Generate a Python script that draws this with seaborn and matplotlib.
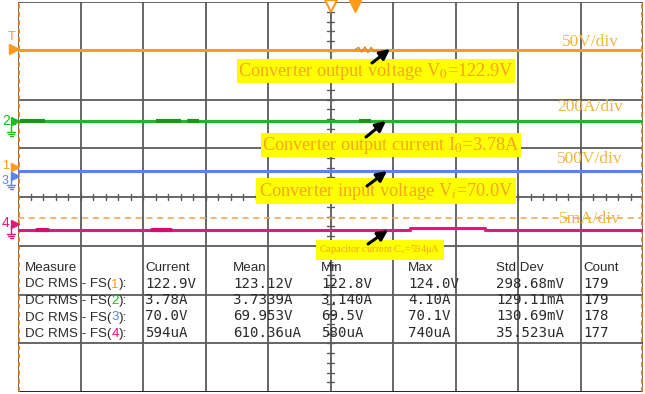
import numpy as np
import pandas as pd
import matplotlib
matplotlib.use("Agg")
import matplotlib.pyplot as plt
import seaborn as sns

# ---------------- data (screen divisions: x 0..10, y 0..8) ----------------
trace_time = [0.0, 10.0]
ch1_level = [7.02, 7.02]          # output voltage
ch2_level = [5.56, 5.56]          # output current
ch3_level = [4.53, 4.53]          # input voltage
ch4_time = [0.0, 6.27, 6.27, 7.47, 7.47, 10.0]
ch4_level = [3.32, 3.32, 3.365, 3.365, 3.32, 3.32]   # capacitor current
ch1_noise_time = [5.39, 5.45, 5.5, 5.55, 5.6, 5.65, 5.7, 5.75]
ch1_noise_level = [7.02, 7.07, 6.97, 7.08, 6.96, 7.07, 6.98, 7.02]
ch2_bursts = [(0.03, 0.5), (2.2, 2.9), (5.45, 5.65)]
ch4_bursts = [(0.3, 0.48), (2.15, 2.45)]
cursor_level = 3.575

scale_labels = ["50V/div", "200A/div", "500V/div", "5mA/div"]
callout_texts = [
    "Converter output voltage V$_0$=122.9V",
    "Converter output current I$_0$=3.78A",
    "Converter input voltage V$_i$=70.0V",
    "Capacitor current C$_x$=594\u03bcA",
]
measure_headers = ["Measure", "Current", "Mean", "Min", "Max", "Std Dev", "Count"]
channel_ids = ["1", "2", "3", "4"]
current_vals = ["122.9V", "3.78A", "70.0V", "594uA"]
mean_vals = ["123.12V", "3.7339A", "69.953V", "610.36uA"]
min_vals = ["122.8V", "3.140A", "69.5V", "580uA"]
max_vals = ["124.0V", "4.10A", "70.1V", "740uA"]
std_vals = ["298.68mV", "129.11mA", "130.69mV", "35.523uA"]
count_vals = ["179", "179", "178", "177"]

ORANGE = "#FF9A1A"
GREEN = "#1FB81F"
BLUE = "#5A82F0"
PINK = "#E8157D"
chan_colors = [ORANGE, GREEN, BLUE, PINK]
TXT_OR = "#F6A623"
LBL_OR = "#F3B43E"
GRID = "#5a5a5a"

# ---------------- figure ----------------
sns.set_theme(style="white")
plt.rcParams["font.family"] = ["Liberation Sans", "DejaVu Sans"]
plt.rcParams["mathtext.fontset"] = "stix"

W, H = 645, 394
fig = plt.figure(figsize=(W / 100, H / 100), dpi=100)
L, R, T, B = 18, 643, 2, 392
ax = fig.add_axes([L / W, (H - B) / H, (R - L) / W, (B - T) / H])
ax.set_xlim(0, 10)
ax.set_ylim(0, 8)
ax.axis("off")


def X(px):
    return (px - L) / 62.5


def Y(py):
    return (B - py) / 48.75


# grid
for i in range(11):
    ax.axvline(i, color=GRID, lw=1.3, zorder=1)
for j in range(9):
    ax.axhline(j, color=GRID, lw=1.3, zorder=1)
ax.axhline(0, color="#222222", lw=2, zorder=1)
# center minor ticks
for k in np.arange(0, 10.01, 0.2):
    ax.plot([k, k], [4 - 0.07, 4 + 0.07], color=GRID, lw=1, zorder=1)
for k in np.arange(0, 8.01, 0.2):
    ax.plot([5 - 0.05, 5 + 0.05], [k, k], color=GRID, lw=1, zorder=1)

# cursors
ax.axvline(0.02, color="#E07A10", lw=1.2, ls=(0, (3, 2)), zorder=2)
ax.axvline(9.98, color="#E07A10", lw=1.2, ls=(0, (3, 2)), zorder=2)
ax.axhline(cursor_level, color="#F5A050", lw=1.1, ls=(0, (4, 3)), zorder=2)

# traces
df1 = pd.DataFrame({"t": trace_time, "v": ch1_level})
df2 = pd.DataFrame({"t": trace_time, "v": ch2_level})
df3 = pd.DataFrame({"t": trace_time, "v": ch3_level})
df4 = pd.DataFrame({"t": ch4_time, "v": ch4_level})
for d, c in zip([df1, df2, df3, df4], chan_colors):
    sns.lineplot(data=d, x="t", y="v", ax=ax, color=c, lw=2.2, sort=False,
                 estimator=None, zorder=3, legend=False)
sns.lineplot(x=ch1_noise_time, y=ch1_noise_level, ax=ax, color="#E08A20", lw=1,
             sort=False, estimator=None, zorder=3)
for a, b in ch2_bursts:
    sns.lineplot(x=[a, b], y=[ch2_level[0], ch2_level[0]], ax=ax, color="#169A16",
                 lw=3.0, ls=(0, (6, 1.5)), estimator=None, zorder=3)
for a, b in ch4_bursts:
    sns.lineplot(x=[a, b], y=[ch4_level[0], ch4_level[0]], ax=ax, color="#D01070",
                 lw=3.0, estimator=None, zorder=3)
ax.set_xlabel("")
ax.set_ylabel("")

# top trigger markers
ax.plot([X(331)], [Y(6)], marker="v", ms=8, mfc="white", mec=ORANGE, mew=1.5,
        clip_on=False, zorder=5)
ax.plot([X(355)], [Y(6)], marker="v", ms=9, color=ORANGE, clip_on=False, zorder=5)


# left channel markers
def ground(px, py, color):
    ax.plot([X(px), X(px)], [Y(py), Y(py + 8)], color=color, lw=1, clip_on=False)
    for k, w in enumerate([4, 3, 1.5]):
        ax.plot([X(px - w), X(px + w)], [Y(py + 8 + 2 * k)] * 2, color=color,
                lw=1, clip_on=False)
    ax.plot([X(px), X(px + 4)], [Y(py)] * 2, color=color, lw=1, clip_on=False)


ax.text(X(12), Y(37), "T", color=ORANGE, fontsize=9, ha="center", va="center")
ax.plot([X(14)], [Y(49)], marker=">", ms=7, color=ORANGE, clip_on=False, zorder=5)

ax.text(X(6), Y(121), "2", color=GREEN, fontsize=10, ha="center", va="center")
ground(11, 124, GREEN)
ax.plot([X(15)], [Y(121)], marker=">", ms=6, color=GREEN, clip_on=False, zorder=5)

ax.text(X(6), Y(166), "1", color=ORANGE, fontsize=9, ha="center", va="center")
ax.plot([X(15)], [Y(167)], marker=">", ms=6, color=ORANGE, clip_on=False, zorder=5)
ax.text(X(5), Y(181), "3", color=BLUE, fontsize=9, ha="center", va="center")
ground(11, 177, BLUE)
ax.plot([X(15)], [Y(176)], marker=">", ms=6, color=BLUE, clip_on=False, zorder=5)

ax.text(X(6), Y(223), "4", color=PINK, fontsize=10, ha="center", va="center")
ground(11, 226, PINK)
ax.plot([X(15)], [Y(224)], marker=">", ms=6, color=PINK, clip_on=False, zorder=5)

# scale labels
for s, py in zip(scale_labels, [42, 107, 159, 219]):
    ax.text(X(590), Y(py), s, color=LBL_OR, fontsize=12.5, ha="center", va="center",
            family=["Liberation Serif"], zorder=6)

# callouts
callout_pos = [(376, 71), (391, 145), (386, 191), (380, 250)]
callout_size = [13.2, 13.2, 13.2, 7.5]
callout_pad = [0.08, 0.08, 0.12, 0.35]
for s, (px, py), fs, pd_ in zip(callout_texts, callout_pos, callout_size, callout_pad):
    ax.text(X(px), Y(py), s, color=TXT_OR, fontsize=fs, ha="center", va="center",
            family=["Liberation Serif"], zorder=7,
            bbox=dict(boxstyle=f"square,pad={pd_}", fc="#FFFF00", ec="none"))

# arrows
arrows = [((372, 63), (390, 49)), ((366, 137), (386, 121)),
          ((367, 186), (387, 171)), ((368, 244), (388, 230))]
for (tx, ty), (hx, hy) in arrows:
    ax.annotate("", xy=(X(hx), Y(hy)), xytext=(X(tx), Y(ty)), zorder=8,
                arrowprops=dict(arrowstyle="-|>,head_length=0.5,head_width=0.25",
                                color="black", lw=2.2, shrinkA=0, shrinkB=0))

# measurement table
TBL = "#2a2a2a"
head_x = [25, 145, 233, 321, 408, 496, 583]
for s, px in zip(measure_headers, head_x):
    ax.text(X(px), Y(271), s, color=TBL, fontsize=9.6, ha="left", va="baseline",
            zorder=6)
row_y = [287.5, 304, 320.5, 337]
cols = [current_vals, mean_vals, min_vals, max_vals, std_vals, count_vals]
for r, py in enumerate(row_y):
    t1 = ax.text(X(25), Y(py), "DC RMS - FS(", color=TBL, fontsize=9.6,
                 ha="left", va="baseline", zorder=6)
    t2 = ax.annotate(channel_ids[r], xy=(1, 0), xycoords=t1, color=chan_colors[r],
                     fontsize=9.6, ha="left", va="bottom", zorder=6)
    ax.annotate("):", xy=(1, 0), xycoords=t2, color=TBL, fontsize=9.6,
                ha="left", va="bottom", zorder=6)
    for vals, px in zip(cols, head_x[1:]):
        ax.text(X(px), Y(py), vals[r], color=TBL, fontsize=10.2,
                family=["DejaVu Sans Mono"], ha="left", va="baseline", zorder=6)

fig.savefig("out.png", dpi=100)
